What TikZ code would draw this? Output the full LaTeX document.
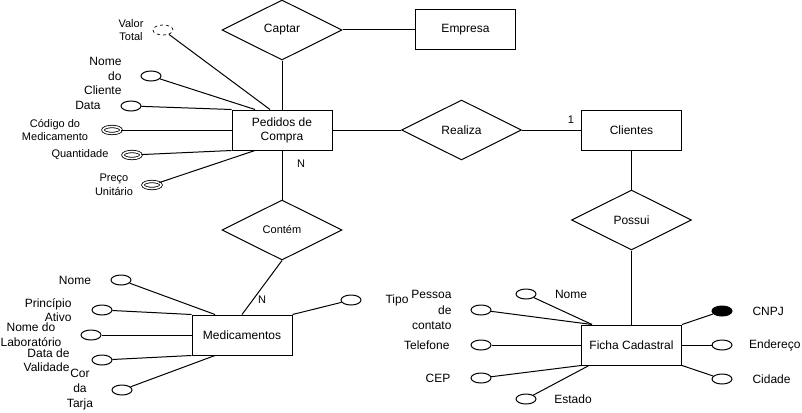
\documentclass[tikz,border=0pt]{standalone}
\usepackage{fontspec}
\setmainfont{Liberation Sans}
\usetikzlibrary{shapes.geometric,calc}
\begin{document}
\begin{tikzpicture}[x=1pt,y=-1pt,line width=1pt,
  ent/.style={draw,rectangle,minimum width=100pt,minimum height=40pt,inner sep=0pt,align=center,font=\fontsize{12}{14}\selectfont},
  rel/.style={draw,diamond,minimum width=120pt,minimum height=60pt,inner sep=0pt,font=\fontsize{12}{14}\selectfont},
  attr/.style={draw,ellipse,minimum width=20pt,minimum height=10pt,inner sep=0pt},
  dattr/.style={attr,dashed,line width=0.7pt},
  mattr/.style={draw,ellipse,double,double distance=1.6pt,line width=0.8pt,minimum width=18pt,minimum height=7pt,inner sep=0pt},
  kattr/.style={attr,fill=black},
  lbl/.style={inner sep=0pt,font=\fontsize{12}{14.5}\selectfont},
  slbl/.style={inner sep=0pt,font=\fontsize{11}{13.5}\selectfont}]
\useasboundingbox (0,0) rectangle (802,412);

% entities and relationships
\node[rel] (captar) at (282,30) {Captar};
\node[ent] (empresa) at (465.5,30) {Empresa};
\node[ent] (ped) at (282,130) {Pedidos de\\Compra};
\node[rel] (realiza) at (461.5,130) {Realiza};
\node[ent] (cli) at (631.5,130) {Clientes};
\node[rel] (possui) at (631.5,220) {Possui};
\node[ent] (ficha) at (631.5,345) {Ficha Cadastral};
\node[rel,font=\fontsize{11}{13}\selectfont] (contem) at (282,230) {Contém};
\node[ent] (med) at (242,335) {Medicamentos};

\draw (captar) -- (empresa);
\draw (captar) -- (ped);
\draw (ped) -- (realiza);
\draw (realiza) -- (cli);
\draw (cli) -- (possui);
\draw (possui) -- (ficha);
\draw (ped) -- (contem);
\draw (contem.south) -- (med.north);

\node[slbl] (one) at (571,120) {1};
\node[slbl] (n1) at (301,164) {N};
\node[slbl] (n2) at (262,300) {N};

% Pedidos de Compra attributes
\node[dattr] (vt) at (163,30) {};
\node[attr] (nc) at (151,76) {};
\node[attr] (da) at (131,106) {};
\node[mattr] (cm) at (112,130) {};
\node[mattr] (qt) at (132,155) {};
\node[mattr] (pu) at (152,185) {};
\draw (vt) -- ($(ped.north)+(-12,0)$);
\draw (nc) -- ($(ped.north)+(-27,0)$);
\draw (da) -- (ped.north west);
\draw (cm) -- (ped.west);
\draw (qt) -- (ped.south west);
\draw (pu) -- ($(ped.south)+(-27,0)$);

\node[slbl,align=center,font=\fontsize{11}{13}\selectfont] (vtl) at (131,30.5) {Valor\\Total};
\node[lbl,align=right,anchor=east] (ncl) at (122,76) {Nome\\do\\Cliente};
\node[lbl] (dal) at (88,105) {Data};
\node[slbl,align=center] (cml) at (55,130) {Código do\\Medicamento};
\node[slbl] (qtl) at (80,155) {Quantidade};
\node[slbl,align=center] (pul) at (114,185) {Preço\\Unitário};

% Medicamentos attributes
\node[attr] (mn) at (121,280) {};
\node[attr] (pa) at (102,310) {};
\node[attr] (nl) at (91,335) {};
\node[attr] (dv) at (102,360) {};
\node[attr] (ct) at (122,390) {};
\node[attr] (mu) at (351,300) {};
\draw (mn) -- ($(med.north)+(-27,0)$);
\draw (pa) -- (med.north west);
\draw (nl) -- (med.west);
\draw (dv) -- (med.south west);
\draw (ct) -- ($(med.south)+(-27,0)$);
\draw (med.north east) -- (mu);

\node[lbl] (mnl) at (75,280) {Nome};
\node[lbl,align=right,anchor=east,font=\fontsize{12}{14.5}\selectfont] (pal) at (72,310) {Princípio\\Ativo};
\node[lbl,align=center,font=\fontsize{12}{15}\selectfont] (nll) at (31,335) {Nome do\\Laboratório};
\node[lbl,align=right,anchor=east,font=\fontsize{12}{14}\selectfont] (dvl) at (70,360.5) {Data de\\Validade};
\node[lbl,align=center,font=\fontsize{12}{15}\selectfont] (ctl) at (80,390) {Cor\\da\\Tarja};

% Ficha Cadastral attributes
\node[attr] (fn) at (526,294) {};
\node[attr] (tp) at (481,310) {};
\node[attr] (tel) at (481,345) {};
\node[attr] (cep) at (481,378) {};
\node[attr] (est) at (526,399) {};
\node[kattr] (cnpj) at (722,311) {};
\node[attr] (end) at (722,345) {};
\node[attr] (cid) at (722,379) {};
\draw (fn) -- ($(ficha.north west)+(11,0)$);
\draw (tp) -- ($(ficha.north west)+(11,0)$);
\draw (tel) -- (ficha.west);
\draw (cep) -- (ficha.south west);
\draw (est) -- ($(ficha.south west)+(8,0)$);
\draw (ficha.north east) -- (cnpj);
\draw (ficha.east) -- (end);
\draw (ficha.south east) -- (cid);

\node[lbl] (fnl) at (571,294) {Nome};
\node[lbl] (tipol) at (397,300) {Tipo};
\node[lbl,align=right,anchor=east,font=\fontsize{12}{15.5}\selectfont] (tpl) at (452,310) {Pessoa\\de\\contato};
\node[lbl,anchor=east] (tell) at (450,345) {Telefone};
\node[lbl] (cepl) at (438,378) {CEP};
\node[lbl] (estl) at (573,399) {Estado};
\node[lbl,anchor=west] (cnpjl) at (752,311) {CNPJ};
\node[lbl,anchor=east] (endl) at (801,345) {Endereço};
\node[lbl,anchor=west] (cidl) at (752,379) {Cidade};
\end{tikzpicture}
\end{document}
